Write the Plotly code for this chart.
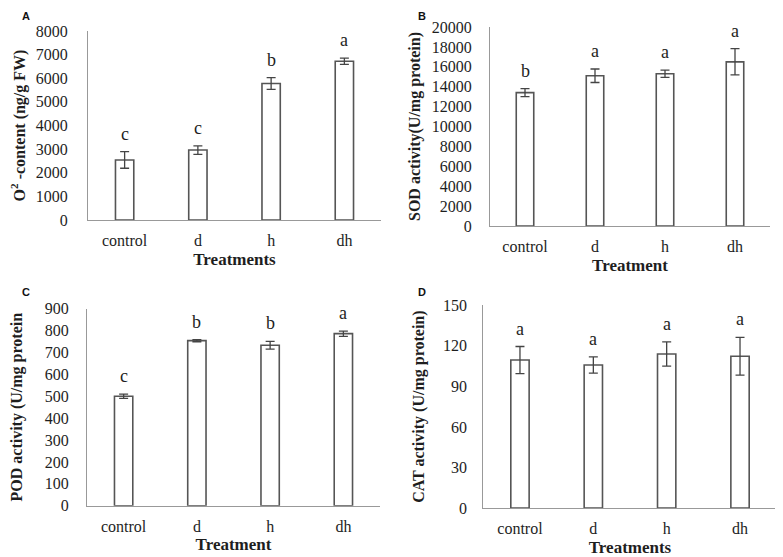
import plotly.graph_objects as go

categories = ["control", "d", "h", "dh"]

o2_values = [2540, 2960, 5780, 6720]
o2_errors = [350, 180, 250, 130]
o2_letters = ["c", "c", "b", "a"]

sod_values = [13400, 15100, 15300, 16500]
sod_errors = [400, 680, 370, 1320]
sod_letters = ["b", "a", "a", "a"]

pod_values = [500, 754, 733, 786]
pod_errors = [10, 5, 18, 12]
pod_letters = ["c", "b", "b", "a"]

cat_values = [109.5, 105.8, 114, 112.3]
cat_errors = [10, 6, 9, 14]
cat_letters = ["a", "a", "a", "a"]

# figure is drawn inside the page body (8px default margin), so sizes are 775x549
W, H = 775, 549

panels = [
    dict(vals=o2_values, errs=o2_errors, letters=o2_letters,
         ytitle="O<sup>2</sup> -content (ng/g FW)", xtitle="Treatments",
         yrange=[0, 8000], dtick=1000, label="A", ylab_gap=16, ystand=14,
         xdom=[80 / W, 373 / W], ydom=[1 - 212 / H, 1 - 23 / H], lab=(18, 0)),
    dict(vals=sod_values, errs=sod_errors, letters=sod_letters,
         ytitle="SOD activity(U/mg protein)", xtitle="Treatment",
         yrange=[0, 20000], dtick=2000, label="B", ylab_gap=14, ystand=7,
         xdom=[482 / W, 762 / W], ydom=[1 - 218 / H, 1 - 19 / H], lab=(414, 0)),
    dict(vals=pod_values, errs=pod_errors, letters=pod_letters,
         ytitle="POD activity (U/mg protein", xtitle="Treatment",
         yrange=[0, 900], dtick=100, label="C", ylab_gap=14, ystand=22,
         xdom=[79 / W, 372 / W], ydom=[1 - 497.7 / H, 1 - 300.7 / H], lab=(18, 276)),
    dict(vals=cat_values, errs=cat_errors, letters=cat_letters,
         ytitle="CAT activity (U/mg protein)", xtitle="Treatments",
         yrange=[0, 150], dtick=30, label="D", ylab_gap=12, ystand=14,
         xdom=[475.3 / W, 768.7 / W], ydom=[1 - 500 / H, 1 - 297.3 / H], lab=(414, 276)),
]

serif = "Liberation Serif"
axis_col = "#999999"
bar_line = "#555555"
txt_col = "#1e1e1e"

fig = go.Figure()
annotations = []
layout = dict(
    width=W, height=H,
    margin=dict(l=0, r=0, t=0, b=0, autoexpand=False),
    paper_bgcolor="white", plot_bgcolor="white",
    showlegend=False,
)

for i, p in enumerate(panels, start=1):
    xa = "x" if i == 1 else f"x{i}"
    ya = "y" if i == 1 else f"y{i}"
    fig.add_trace(go.Bar(
        x=categories, y=p["vals"], xaxis=xa, yaxis=ya,
        width=0.25,
        marker=dict(color="white", line=dict(color=bar_line, width=1.6)),
        error_y=dict(type="data", array=p["errs"], visible=True,
                     color="#444444", thickness=1.3, width=4.5),
        hoverinfo="skip",
    ))
    xkey = "xaxis" if i == 1 else f"xaxis{i}"
    ykey = "yaxis" if i == 1 else f"yaxis{i}"
    layout[xkey] = dict(
        domain=p["xdom"], anchor=ya, range=[-0.5, 3.5],
        showline=True, linecolor=axis_col, linewidth=1.2,
        showgrid=False, ticks="", zeroline=False, automargin=False,
        ticklabelstandoff=6,
        tickfont=dict(family=serif, size=16, color=txt_col),
        title=dict(text=f"<b>{p['xtitle']}</b>", standoff=4,
                   font=dict(family=serif, size=17, color=txt_col)),
        fixedrange=True,
    )
    layout[ykey] = dict(
        domain=p["ydom"], anchor=xa, range=p["yrange"], dtick=p["dtick"],
        tickformat="d",
        showline=True, linecolor=axis_col, linewidth=1.2,
        showgrid=False, ticks="", zeroline=False, automargin=False,
        ticklabelstandoff=p["ylab_gap"],
        tickfont=dict(family=serif, size=16, color=txt_col),
        title=dict(text=f"<b>{p['ytitle']}</b>", standoff=p["ystand"],
                   font=dict(family=serif, size=16, color=txt_col)),
        fixedrange=True,
    )
    for c, v, e, l in zip(categories, p["vals"], p["errs"], p["letters"]):
        annotations.append(dict(
            x=c, y=v + e, xref=xa, yref=ya, text=l, showarrow=False,
            yanchor="bottom", yshift=6,
            font=dict(family=serif, size=18, color=txt_col),
        ))

# panel labels
for p in panels:
    px, py = p["lab"]
    annotations.append(dict(
        x=px / W, y=1 - py / H, xref="paper", yref="paper",
        text=f"<b>{p['label']}</b>", showarrow=False,
        xanchor="center", yanchor="top",
        font=dict(family="Liberation Sans", size=11, color="#111111"),
    ))

layout["annotations"] = annotations
fig.update_layout(**layout)
fig.write_html("out.html")
